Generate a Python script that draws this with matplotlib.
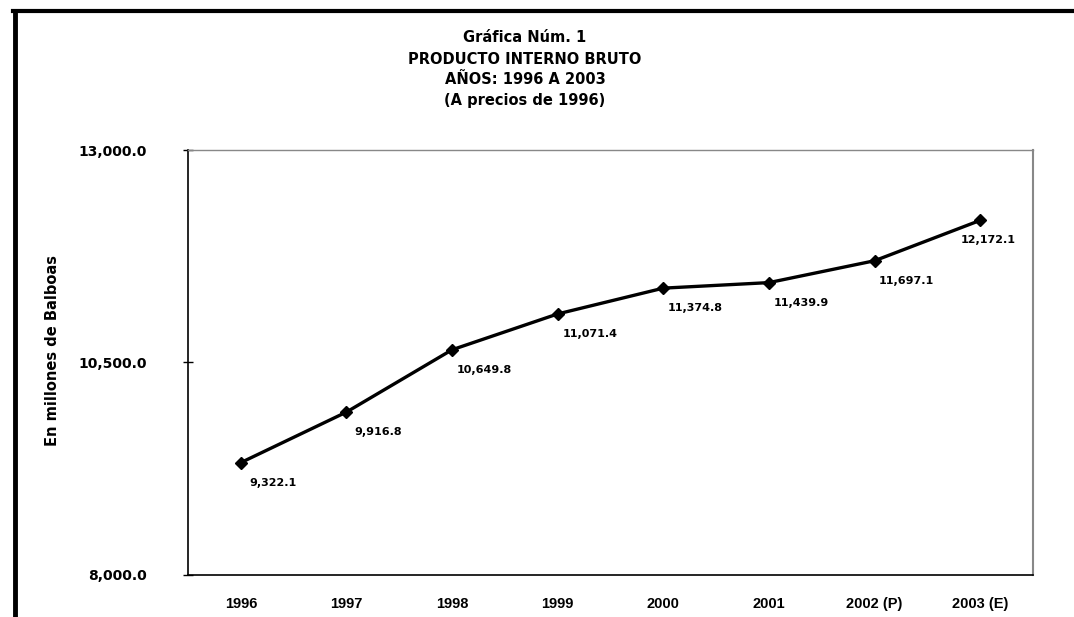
import matplotlib
matplotlib.use("Agg")
import matplotlib.pyplot as plt
from matplotlib.lines import Line2D

plt.rcParams['font.family'] = ['DejaVu Sans']

years = ["1996", "1997", "1998", "1999", "2000", "2001", "2002 (P)", "2003 (E)"]
pib = [9322.1, 9916.8, 10649.8, 11071.4, 11374.8, 11439.9, 11697.1, 12172.1]
yticks = [8000.0, 10500.0, 13000.0]
ytick_labels = ["8,000.0", "10,500.0", "13,000.0"]
title_lines = ["Gráfica Núm. 1", "PRODUCTO INTERNO BRUTO", "AÑOS: 1996 A 2003", "(A precios de 1996)"]

fig = plt.figure(figsize=(10.74, 6.17), dpi=100)
ax = fig.add_axes([188/1074, 1-575/617, (1033-188)/1074, (575-150)/617])

x = list(range(len(years)))
ax.plot(x, pib, color='black', linewidth=2.4, marker='D', markersize=6, zorder=3)

for i, v in enumerate(pib):
    dx = 32 if i < len(pib) - 1 else 8
    ax.annotate(f"{v:,.1f}", (i, v), xytext=(dx*0.72, -20*0.72), textcoords='offset points',
                ha='center', va='center', fontsize=8, fontweight='bold')

ax.set_xlim(-0.5, len(years) - 0.5)
ax.set_ylim(8000, 13000)
ax.set_xticks(x)
ax.set_xticklabels(years, fontsize=10.5, fontweight='bold',
                   family=['Liberation Sans Narrow', 'Liberation Sans', 'DejaVu Sans'])
ax.tick_params(axis='x', length=0, pad=16)
ax.set_yticks(yticks)
ax.set_yticklabels(ytick_labels, fontsize=10, fontweight='bold')
ax.tick_params(axis='y', direction='inout', length=7, width=1, pad=26)

ax.spines['left'].set_color('black')
ax.spines['left'].set_linewidth(1.2)
ax.spines['bottom'].set_color('black')
ax.spines['bottom'].set_linewidth(1.2)
ax.spines['top'].set_color('#888888')
ax.spines['top'].set_linewidth(1.0)
ax.spines['right'].set_color('#888888')
ax.spines['right'].set_linewidth(1.5)

ax.set_ylabel("En millones de Balboas", fontsize=10.5, fontweight='bold')
ax.yaxis.set_label_coords((60-188)/845, (575-351)/425)

for k, t in enumerate(title_lines):
    fig.text(525/1074, 1 - (38 + 21*k)/617, t, ha='center', va='center',
             fontsize=10.5, fontweight='bold')

# scanned page frame
fig.add_artist(Line2D([13/1074, 1.0], [1-11/617, 1-11/617], color='black', linewidth=3,
                      transform=fig.transFigure))
fig.add_artist(Line2D([15/1074, 15/1074], [0.0, 1-11/617], color='black', linewidth=3.5,
                      transform=fig.transFigure))

fig.savefig("out.png", dpi=100, facecolor='white')
